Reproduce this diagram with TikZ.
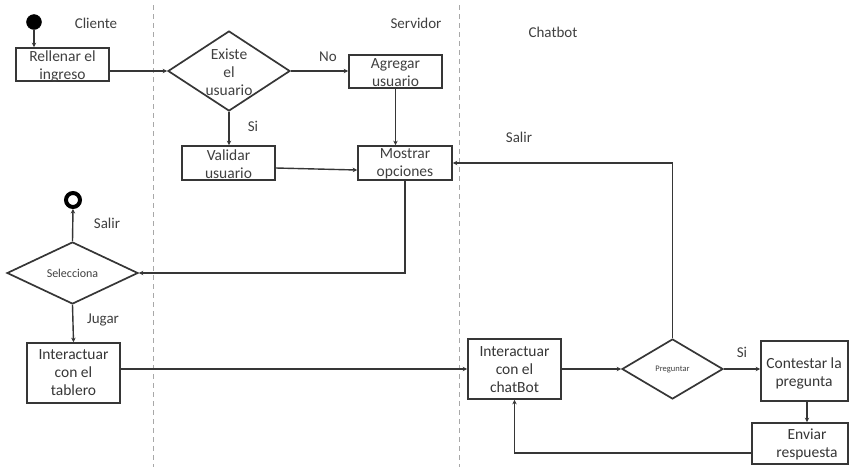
\documentclass[tikz,border=0pt]{standalone}
\usepackage{fontspec}
\setmainfont{Carlito}
\usetikzlibrary{shapes.geometric,arrows.meta,calc}
\definecolor{ln}{HTML}{363636}
\definecolor{tx}{HTML}{404040}
\definecolor{dl}{HTML}{A8A8A8}
\tikzset{
  box/.style={draw=ln,line width=1.7pt,rectangle,inner sep=0pt},
  dia/.style={draw=ln,line width=1.7pt,diamond,inner sep=0pt},
  txt/.style={text=tx,align=center,inner sep=0pt,font=\fontsize{15.5}{18}\selectfont},
  lbl/.style={text=tx,inner sep=0pt,font=\fontsize{15}{18}\selectfont},
  arr/.style={draw=ln,line width=1.4pt,-{Stealth[length=4.5pt,width=4.5pt]}},
  lane/.style={draw=dl,line width=1pt,dash pattern=on 5pt off 4pt}
}
\begin{document}
\begin{tikzpicture}[x=1pt,y=-1pt]
\useasboundingbox[fill=white] (0,0) rectangle (850,467);
% lanes
\coordinate (l1t) at (153,5); \coordinate (l1b) at (153,467);
\coordinate (l2t) at (459,5); \coordinate (l2b) at (459,467);
\draw[lane] (l1t) -- (l1b);
\draw[lane] (l2t) -- (l2b);
\node[lbl] (cliente) at (96,23) {Cliente};
\node[lbl] (servidor) at (416,23) {Servidor};
\node[lbl] (chatbot) at (553,32) {Chatbot};
% nodes
\node[circle,fill=black,draw=black,minimum size=15pt,inner sep=0pt] (start) at (34,22) {};
\node[box,minimum width=93pt,minimum height=33pt] (rell) at (62.5,64.5) {};
\node[txt] (rellT) at (62.5,66) {Rellenar el\\ingreso};
\node[dia,minimum width=122pt,minimum height=80pt] (exist) at (229,71) {};
\node[txt] (existT) at (229,72.5) {Existe\\el\\usuario};
\node[box,minimum width=93pt,minimum height=33pt] (agreg) at (395.5,71.5) {};
\node[txt] (agregT) at (395.5,72.5) {Agregar\\usuario};
\node[box,minimum width=93pt,minimum height=34pt] (valid) at (228.5,163) {};
\node[txt] (validT) at (228.5,164) {Validar\\usuario};
\node[box,minimum width=94pt,minimum height=34pt] (mostr) at (405,163) {};
\node[txt] (mostrT) at (405,164) {Mostrar\\opciones};
\node[circle,draw=black,line width=4pt,minimum size=14pt,inner sep=0pt] (endc) at (73,200) {};
\node[dia,minimum width=131pt,minimum height=62pt] (selec) at (72.5,273) {};
\node[txt,font=\fontsize{12}{14}\selectfont] (selecT) at (72.5,273) {Selecciona};
\node[box,minimum width=93pt,minimum height=60pt] (tabl) at (73.5,373) {};
\node[txt,text=ln] (tablT) at (73.5,373) {Interactuar\\con el\\tablero};
\node[box,minimum width=93pt,minimum height=60pt] (chat) at (514.5,369) {};
\node[txt,text=ln] (chatT) at (514.5,370) {Interactuar\\con el\\chatBot};
\node[dia,minimum width=101pt,minimum height=60pt] (preg) at (672.5,369) {};
\node[txt,font=\fontsize{8.5}{10}\selectfont] (pregT) at (672.5,369) {Preguntar};
\node[box,minimum width=87pt,minimum height=60pt] (cont) at (804.5,371) {};
\node[txt,text=ln] (contT) at (804,373.5) {Contestar la\\pregunta};
\node[box,minimum width=96pt,minimum height=41pt] (envi) at (800,443.5) {};
\node[txt,text=ln] (enviT) at (807,444.5) {Enviar\\respuesta};
% labels
\node[lbl] (no) at (328,57) {No};
\node[lbl] (si1) at (253,126) {Si};
\node[lbl] (salir1) at (107,223) {Salir};
\node[lbl] (jugar) at (103,320) {Jugar};
\node[lbl] (salir2) at (519,137) {Salir};
\node[lbl] (si2) at (742,352) {Si};
% connectors
\draw[arr] (start.south) -- (start.south |- rell.north);
\draw[arr] (rell.east |- exist.west) -- (exist.west);
\draw[arr] (exist.east) -- (exist.east -| agreg.west);
\draw[arr] (exist.south) -- (exist.south |- valid.north);
\draw[arr] (agreg.south) -- (agreg.south |- mostr.north);
\draw[arr] ([yshift=-5pt]valid.east) -- ([yshift=-7pt]mostr.west);
\draw[arr] (mostr.south) |- (selec.east);
\draw[arr] (selec.north) -- (endc.south);
\draw[arr] (selec.south) -- (tabl.north);
\draw[arr] (tabl.east |- chat.west) -- (chat.west);
\draw[arr] (chat.east) -- (preg.west);
\draw[arr] (preg.east) -- (preg.east -| cont.west);
\draw[arr] ([xshift=2.5pt]cont.south) -- ([xshift=2.5pt]cont.south |- envi.north);
\draw[arr] ([yshift=-9.5pt]envi.west) -| (chat.south);
\draw[arr] (preg.north) |- (mostr.east);
\end{tikzpicture}
\end{document}
